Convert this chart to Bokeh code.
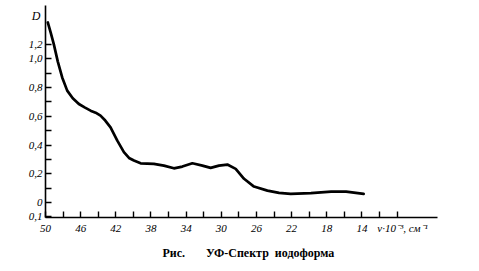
from bokeh.plotting import figure
from bokeh.models import Range1d, FixedTicker, Title, LinearAxis
from bokeh.embed import file_html
from bokeh.resources import INLINE

# wavenumber (nu * 10^-3, cm^-1) and optical density D
nu = [49.74, 49.4, 49.05, 48.6, 48.1, 47.53, 46.9, 46.2, 45.5, 44.87, 44.3, 43.74,
      43.2, 42.6, 41.83, 41.08, 40.5, 39.94, 39.18, 37.67, 36.53, 35.39, 34.43, 33.29,
      32.15, 31.21, 30.26, 29.31, 28.36, 27.41, 26.28, 24.75, 23.43, 22.1,
      19.8, 17.5, 15.8, 13.8]
D = [1.252, 1.18, 1.10, 0.98, 0.87, 0.778, 0.725, 0.685, 0.66, 0.639, 0.625, 0.604,
     0.57, 0.523, 0.43, 0.35, 0.31, 0.292, 0.273, 0.269, 0.257, 0.238, 0.25, 0.273,
     0.257, 0.241, 0.257, 0.264, 0.234, 0.165, 0.111, 0.083, 0.067, 0.06,
     0.066, 0.076, 0.076, 0.06]

x_ticks = [50, 48, 46, 44, 42, 40, 38, 36, 34, 32, 30, 28, 26, 24, 22, 20, 18, 16, 14, 12, 10]
x_labels = {50: "50", 46: "46", 42: "42", 38: "38", 34: "34", 30: "30",
            26: "26", 22: "22", 18: "18", 14: "14", 10: "\u00a0\u00a0\u00a0\u00a0ν·10⁻³, см⁻¹"}
y_ticks = [-0.1, 0.0, 0.1, 0.2, 0.3, 0.4, 0.5, 0.6, 0.7, 0.8, 0.9, 1.0, 1.1]
y_labels = {-0.1: "0,1", 0.0: "0", 0.2: "0,2", 0.4: "0,4", 0.6: "0,6",
            0.8: "0,8", 1.0: "1,0", 1.1: "1,2"}
y_name_pos = 1.30
y_name = "D"
caption = "Рис.\u00a0\u00a0\u00a0\u00a0\u00a0\u00a0\u00a0УФ-Спектр\u00a0\u00a0иодоформа"

p = figure(width=479, height=271, output_backend="svg", toolbar_location=None,
           x_range=Range1d(50, 5.4), y_range=Range1d(-0.104, 1.37),
           min_border_left=45, min_border_right=42, min_border_top=5,
           min_border_bottom=54)
p.outline_line_color = None
p.grid.visible = False
p.background_fill_color = "white"
p.border_fill_color = "white"

p.line(nu, D, line_color="black", line_width=2.7, line_join="round", line_cap="round")

font = "Liberation Sans Narrow"
p.xaxis.ticker = FixedTicker(ticks=x_ticks)
p.xaxis.major_label_overrides = {t: x_labels.get(t, "") for t in x_ticks}
p.yaxis.ticker = FixedTicker(ticks=y_ticks)
p.yaxis.major_label_overrides = {t: y_labels.get(t, "") for t in y_ticks}
for ax in (p.xaxis, p.yaxis):
    ax.axis_line_color = "black"
    ax.axis_line_width = 1.6
    ax.major_tick_line_color = "black"
    ax.major_tick_line_width = 1.4
    ax.major_tick_in = 6
    ax.major_tick_out = 0
    ax.minor_tick_line_color = None
    ax.major_label_text_font = font
    ax.major_label_text_font_style = "italic"
    ax.major_label_text_font_size = "11px"
    ax.major_label_text_color = "black"
p.xaxis.major_label_standoff = 4
p.yaxis.major_label_standoff = 3

d_axis = LinearAxis(ticker=FixedTicker(ticks=[y_name_pos]),
                    major_label_overrides={y_name_pos: y_name},
                    axis_line_color=None, major_tick_line_color=None,
                    minor_tick_line_color=None, major_label_standoff=-21,
                    major_label_text_font=font, major_label_text_font_style="italic",
                    major_label_text_font_size="12px", major_label_text_color="black")
p.add_layout(d_axis, "left")

p.add_layout(Title(text=caption, align="left", offset=117, standoff=14,
                   text_font="Liberation Serif", text_font_size="12px",
                   text_font_style="bold", text_color="black"), "below")

open("out.html", "w").write(file_html(p, INLINE))
